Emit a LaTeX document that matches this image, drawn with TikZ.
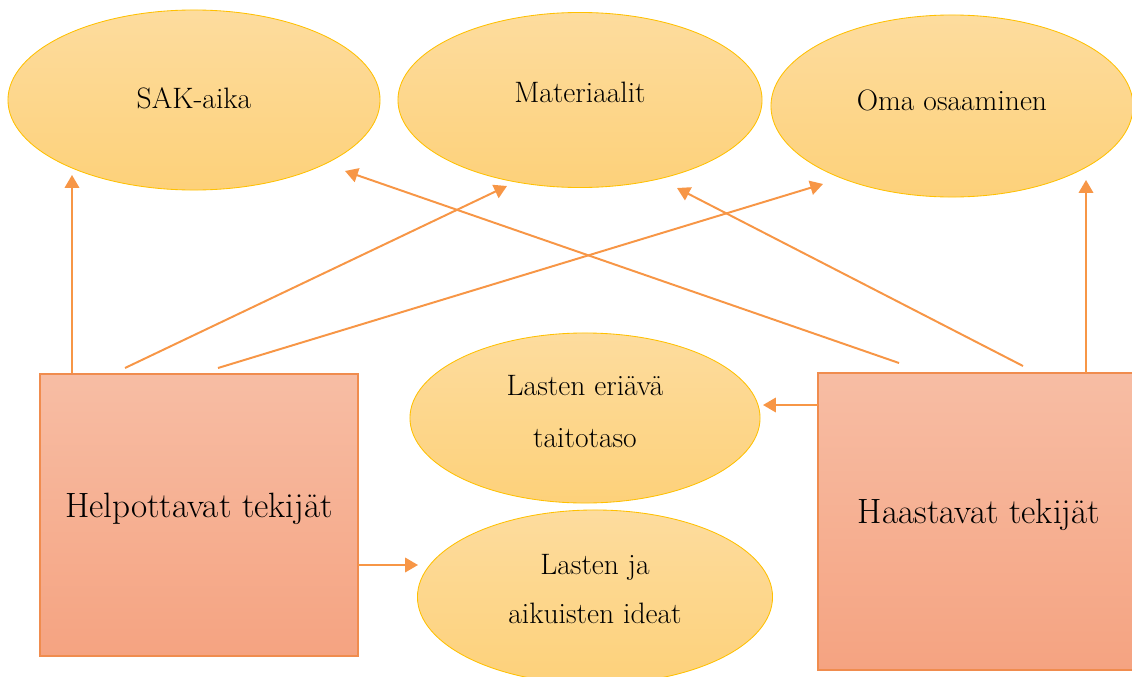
\documentclass[tikz,border=0pt]{standalone}
\usetikzlibrary{arrows.meta,shapes.geometric}
\definecolor{ellTop}{HTML}{FDDC9E}
\definecolor{ellBot}{HTML}{FDD17A}
\definecolor{ellGold}{HTML}{FFC000}
\definecolor{boxTop}{HTML}{F7BDA4}
\definecolor{boxBot}{HTML}{F5A381}
\definecolor{boxLine}{HTML}{F08C4E}
\definecolor{arrOrange}{HTML}{F79646}

\begin{document}
\begin{tikzpicture}[x=0.025cm,y=-0.025cm,
  oval/.style={ellipse,draw=ellGold,line width=0.6pt,top color=ellTop,bottom color=ellBot,inner sep=0pt,align=center,font=\fontsize{21}{37}\selectfont},
  tekija/.style={rectangle,draw=boxLine,line width=0.9pt,top color=boxTop,bottom color=boxBot,inner sep=0pt,font=\fontsize{25}{30}\selectfont},
  nuoli/.style={draw=arrOrange,line width=1.4pt,-{Triangle[length=0.32cm,width=0.36cm]}}]
\useasboundingbox (0,0) rectangle (1132,677);
%ovals
\node[oval,minimum width=9.3cm,minimum height=4.5cm,text depth=2.8pt] (sak) at (194,100) {SAK-aika};
\node[oval,minimum width=9.1cm,minimum height=4.375cm,text depth=11.4pt] (mat) at (580,100) {Materiaalit};
\node[oval,minimum width=9.05cm,minimum height=4.55cm,text depth=8.5pt] (oma) at (952,106) {Oma osaaminen};
\node[oval,minimum width=8.75cm,minimum height=4.25cm,text depth=10pt] (eri) at (585,418) {Lasten eriävä\\taitotaso};
\node[oval,minimum width=8.875cm,minimum height=4.35cm,text depth=11.4pt,font=\fontsize{21}{34.5}\selectfont] (ide) at (595,597) {Lasten ja\\aikuisten ideat};
%boxes
\node[tekija,minimum width=7.95cm,minimum height=7.05cm,text depth=13.5pt] (help) at (199,515) {Helpottavat tekijät};
\node[tekija,minimum width=8.05cm,minimum height=7.425cm,text depth=15pt] (haas) at (979,521.5) {Haastavat tekijät};
%arrow ends
\coordinate (h1) at (72,373);
\coordinate (h2) at (125,368);
\coordinate (h3) at (218,368);
\coordinate (h4) at (358,565);
\coordinate (a1) at (899,363);
\coordinate (a2) at (1023,366);
\coordinate (a3) at (1086,373);
\coordinate (a4) at (818,405);
\coordinate (t1) at (72,175);
\coordinate (t2) at (507,186);
\coordinate (t3) at (823,184);
\coordinate (t4) at (418,565);
\coordinate (t5) at (345,171);
\coordinate (t6) at (677,188);
\coordinate (t7) at (1086,180);
\coordinate (t8) at (763,405);
%arrows
\draw[nuoli] (h1)--(t1);
\draw[nuoli] (h2)--(t2);
\draw[nuoli] (h3)--(t3);
\draw[nuoli] (h4)--(t4);
\draw[nuoli] (a1)--(t5);
\draw[nuoli] (a2)--(t6);
\draw[nuoli] (a3)--(t7);
\draw[nuoli] (a4)--(t8);
\end{tikzpicture}
\end{document}
